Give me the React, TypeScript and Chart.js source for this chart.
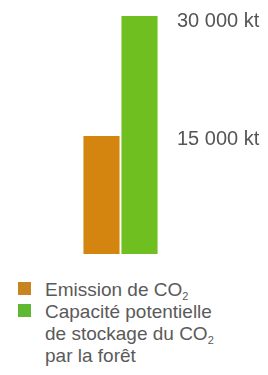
import React, { useEffect, useRef } from "react";
import { Chart, registerables } from "chart.js";

Chart.register(...registerables);

const categories = ["Emission de CO₂", "Capacité potentielle de stockage du CO₂ par la forêt"];
const values = [15000, 30250];
const barColors = ["#d4850f", "#6ebf1f"];
const legendColors = ["#c8851f", "#5eb832"];
const tickValues = [15000, 30000];
const tickLabels = ["15 000 kt", "30 000 kt"];

const FONT = "'Liberation Sans', Arial, Helvetica, sans-serif";

export default function App() {
  const ref = useRef<HTMLCanvasElement | null>(null);

  useEffect(() => {
    if (!ref.current) return;
    const chart = new Chart(ref.current, {
      type: "bar",
      data: {
        labels: [""],
        datasets: values.map((v, i) => ({
          label: categories[i],
          data: [v],
          backgroundColor: barColors[i],
          borderWidth: 0,
          barPercentage: 0.95,
          categoryPercentage: 0.724,
        })),
      },
      options: {
        animation: false,
        responsive: true,
        maintainAspectRatio: false,
        layout: { padding: { left: 68, right: 0, top: 15, bottom: 11 } },
        plugins: { legend: { display: false }, tooltip: { enabled: false } },
        scales: {
          x: { display: false },
          y: {
            position: "right",
            min: 0,
            max: Math.max(...values),
            grid: { display: false, drawTicks: false },
            border: { display: false },
            afterBuildTicks: (scale: any) => {
              scale.ticks = tickValues.map((v) => ({ value: v }));
            },
            afterFit: (scale: any) => {
              scale.width = 95;
            },
            ticks: {
              padding: 4,
              labelOffset: 4,
              color: "#555",
              font: { family: FONT, size: 20 },
              callback: (v: any) => {
                const idx = tickValues.indexOf(Number(v));
                return idx >= 0 ? tickLabels[idx] : "";
              },
            },
          },
        },
      },
    });
    return () => chart.destroy();
  }, []);

  const sub = { fontSize: 11, lineHeight: 0, verticalAlign: "-4px" } as React.CSSProperties;

  return (
    <div style={{ position: "absolute", left: 0, top: 0, width: 268, height: 375, background: "#fff" }}>
      <div style={{ position: "relative", width: 268, height: 270 }}>
        <canvas ref={ref} />
      </div>
      <div style={{ marginTop: 9, fontFamily: FONT, fontSize: 19, lineHeight: "22px", color: "#5a5a5a" }}>
        <div style={{ position: "relative", paddingLeft: 45 }}>
          <span style={{ position: "absolute", left: 18, top: 3, width: 13, height: 13, background: legendColors[0] }} />
          Emission de CO<span style={sub}>2</span>
        </div>
        <div style={{ position: "relative", paddingLeft: 45 }}>
          <span style={{ position: "absolute", left: 18, top: 3, width: 13, height: 13, background: legendColors[1] }} />
          Capacité potentielle
          <br />
          de stockage du CO<span style={sub}>2</span>
          <br />
          par la forêt
        </div>
      </div>
    </div>
  );
}
